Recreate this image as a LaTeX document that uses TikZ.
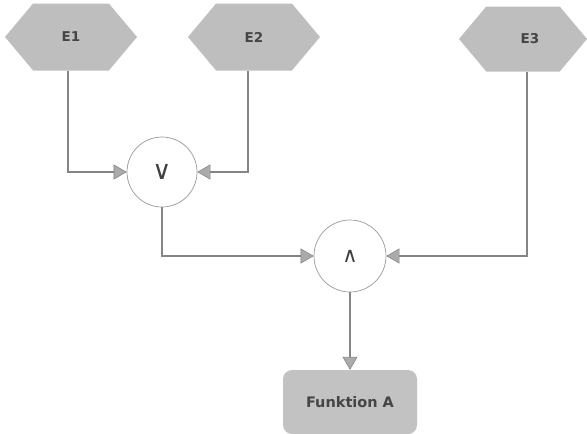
\documentclass[tikz,border=0pt]{standalone}
\usepackage{fontspec}
\setmainfont{DejaVu Sans}
\usetikzlibrary{shapes.symbols,arrows.meta}
\definecolor{hexgray}{HTML}{BEBEBE}
\definecolor{boxgray}{HTML}{C2C2C2}
\definecolor{linegray}{HTML}{858585}
\definecolor{tipgray}{HTML}{ABABAB}
\definecolor{txtgray}{HTML}{454545}
\definecolor{circgray}{HTML}{999999}
\tikzset{
  event/.style={signal, signal from=nowhere, signal to=west and east, signal pointer angle=100,
    fill=hexgray, draw=none, minimum width=132pt, minimum height=67pt, inner sep=0pt,
    font=\bfseries\fontsize{13.5}{15}\selectfont, text=txtgray},
  gate/.style={circle, draw=circgray, line width=0.7pt, fill=white, minimum size=70pt, inner sep=0pt, text=black!75},
  funcbox/.style={rectangle, rounded corners=9pt, fill=boxgray, minimum width=134pt, minimum height=64pt,
    font=\bfseries\fontsize{14.5}{16}\selectfont, text=txtgray},
  conn/.style={draw=linegray, line width=1.4pt,
    -{Triangle[length=13pt,width=15pt,fill=tipgray,line width=0.6pt]}},
}
\begin{document}
\begin{tikzpicture}[x=1pt,y=-1pt]
\useasboundingbox (0,0) rectangle (587,434);
\node[event] (e1) at (71,37) {E1};
\node[event] (e2) at (254,37) {E2};
\node[event, minimum width=128pt, minimum height=65pt] (e3) at (523,39) {\hspace*{14pt}E3};
\node[gate, font=\fontsize{26}{26}\selectfont] (or) at (162,172) {∨};
\node[gate, minimum size=72pt, font=\fontsize{21}{21}\selectfont] (and) at (350,256) {∧};
\node[funcbox] (fa) at (350,402) {Funktion A};
\draw[conn] (68,0 |- e1.south) -- (68,172) -- (or.west);
\draw[conn] (248,0 |- e2.south) -- (248,172) -- (or.east);
\draw[conn] (or.south) -- (162,256) -- (and.west);
\draw[conn, line width=1.1pt] (527,0 |- e3.south) -- (527,256) -- (and.east);
\draw[conn, line width=1.1pt] (and.south) -- (fa.north);
\end{tikzpicture}
\end{document}
